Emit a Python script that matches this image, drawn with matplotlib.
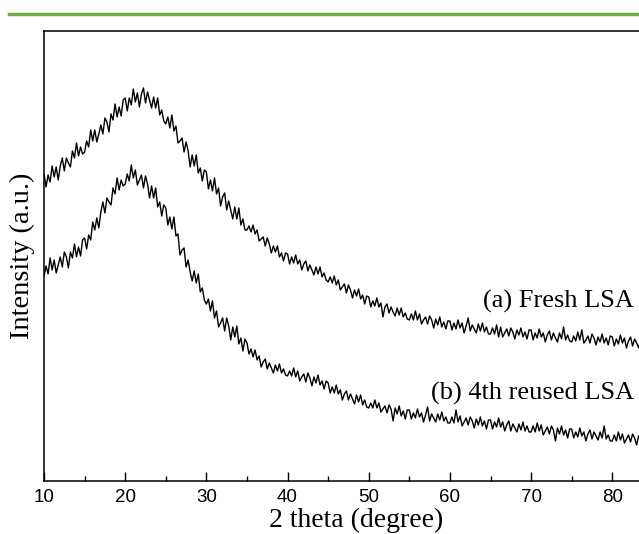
import numpy as np
import matplotlib.pyplot as plt
from matplotlib.lines import Line2D
from matplotlib.ticker import MultipleLocator

plt.rcParams["font.family"] = ["Liberation Sans", "DejaVu Sans"]

# 2 theta grid (degree), 0.25 step
two_theta = np.arange(10.0, 84.001, 0.25)

# (a) Fresh LSA (arbitrary units), one row = 5 degrees
fresh = [
    307, 294, 306, 299, 315, 304, 314, 301, 315, 323, 310, 323, 318, 314, 330, 323, 338, 325, 334, 327,
    329, 340, 334, 351, 340, 351, 339, 347, 356, 347, 363, 359, 349, 367, 361, 377, 364, 374, 365, 381,
    383, 370, 383, 376, 392, 379, 388, 374, 387, 393, 378, 389, 381, 373, 384, 373, 383, 366, 371, 360,
    357, 364, 353, 366, 350, 355, 338, 340, 343, 329, 339, 330, 314, 326, 315, 326, 308, 313, 300, 311,
    309, 292, 301, 290, 303, 287, 293, 275, 284, 288, 271, 280, 271, 262, 274, 262, 273, 256, 262, 251,
    251, 255, 249, 256, 247, 251, 240, 242, 244, 235, 243, 237, 228, 235, 229, 235, 224, 228, 220, 228,
    227, 217, 224, 218, 226, 217, 221, 211, 217, 220, 210, 216, 211, 206, 214, 207, 214, 204, 208, 201,
    199, 204, 198, 205, 196, 201, 191, 194, 197, 188, 196, 191, 183, 191, 185, 192, 182, 186, 177, 185,
    184, 174, 180, 175, 183, 174, 178, 164, 174, 177, 168, 174, 169, 165, 173, 166, 173, 164, 168, 162,
    161, 167, 161, 170, 161, 167, 157, 161, 164, 157, 165, 161, 153, 162, 156, 164, 154, 159, 152, 160,
    160, 151, 158, 152, 161, 153, 158, 148, 155, 163, 150, 156, 152, 148, 157, 150, 158, 149, 154, 147,
    147, 153, 147, 156, 144, 154, 144, 148, 152, 145, 153, 149, 142, 151, 146, 153, 144, 149, 142, 151,
    151, 141, 148, 143, 152, 144, 148, 139, 146, 150, 141, 148, 143, 139, 148, 142, 154, 141, 146, 140,
    139, 145, 140, 149, 141, 151, 138, 141, 145, 138, 147, 143, 136, 144, 139, 147, 138, 143, 136, 145,
    144, 135, 142, 137, 146, 138, 143, 133, 140, 144, 135, 142, 138, 133, 142, 136, 144,
]

# (b) 4th reused LSA
reused = [
    205, 215, 207, 223, 211, 221, 208, 216, 224, 214, 229, 224, 213, 229, 223, 237, 224, 234, 225, 241,
    243, 232, 246, 241, 259, 251, 263, 253, 269, 279, 268, 283, 279, 276, 293, 287, 303, 291, 301, 295,
    297, 307, 300, 316, 303, 311, 296, 301, 306, 293, 305, 297, 283, 295, 283, 293, 274, 279, 265, 276,
    273, 256, 264, 252, 264, 245, 247, 226, 231, 233, 214, 221, 209, 200, 210, 198, 207, 189, 193, 181,
    177, 182, 170, 180, 163, 170, 154, 158, 163, 150, 163, 155, 141, 154, 144, 155, 137, 143, 130, 142,
    138, 127, 132, 124, 131, 121, 125, 114, 119, 122, 112, 118, 113, 108, 116, 110, 117, 108, 112, 106,
    105, 110, 105, 113, 104, 110, 100, 104, 107, 99, 108, 103, 95, 104, 98, 106, 96, 100, 92, 100,
    98, 88, 94, 88, 96, 87, 91, 81, 87, 90, 81, 87, 82, 77, 86, 79, 86, 76, 81, 74,
    73, 78, 73, 81, 73, 78, 69, 72, 75, 68, 76, 72, 60, 73, 67, 75, 65, 70, 62, 71,
    71, 62, 68, 63, 72, 64, 68, 59, 66, 74, 60, 67, 63, 59, 67, 61, 69, 60, 64, 58,
    58, 64, 58, 71, 59, 65, 55, 59, 63, 56, 64, 60, 53, 62, 56, 64, 55, 60, 52, 61,
    61, 52, 59, 54, 63, 54, 59, 50, 56, 60, 50, 57, 53, 49, 57, 51, 59, 50, 55, 49,
    49, 55, 49, 58, 50, 56, 46, 50, 54, 47, 55, 51, 40, 53, 47, 55, 46, 51, 43, 52,
    52, 43, 49, 44, 53, 45, 49, 40, 47, 51, 42, 49, 45, 41, 49, 43, 55, 42, 46, 40,
    40, 46, 40, 49, 41, 47, 38, 42, 46, 39, 47, 43, 36, 45, 40, 48, 39,
]

labels = ["(a) Fresh LSA", "(b) 4th reused LSA"]
label_pos = [(82.7, 180), (82.7, 88)]

serif = ["Liberation Serif", "DejaVu Serif"]

fig = plt.figure(figsize=(6.39, 5.34), dpi=100)
ax = fig.add_axes([0.0689, 0.0993, 0.935, 0.8427])

ax.plot(two_theta, fresh, color="black", lw=1.0)
ax.plot(two_theta, reused, color="black", lw=1.0)

for txt, (x, y) in zip(labels, label_pos):
    ax.text(x, y, txt, ha="right", va="center", fontsize=19, family=serif)

ax.set_xlim(10, 83.6)
ax.set_ylim(0, 450)
ax.spines["right"].set_visible(False)
for s in ["left", "top", "bottom"]:
    ax.spines[s].set_linewidth(1.1)

ax.xaxis.set_major_locator(MultipleLocator(10))
ax.xaxis.set_minor_locator(MultipleLocator(5))
ax.tick_params(axis="x", which="major", direction="in", length=6.5, width=1.0,
               pad=6, labelsize=13.5)
ax.tick_params(axis="x", which="minor", direction="in", length=3.6, width=1.0)
ax.set_yticks([])

ax.set_xlabel("2 theta (degree)", fontsize=20, family=serif, labelpad=1)
ax.xaxis.label.set_x(0.522)
ax.set_ylabel("Intensity (a.u.)", fontsize=20.5, family=serif)
ax.yaxis.set_label_coords(-0.015, 0.5)

# green rule at the top of the page
fig.add_artist(Line2D([9 / 639, 1.0], [1 - 14 / 534] * 2, color="#70ad47", lw=2.5))

fig.savefig("out.png", dpi=100)
